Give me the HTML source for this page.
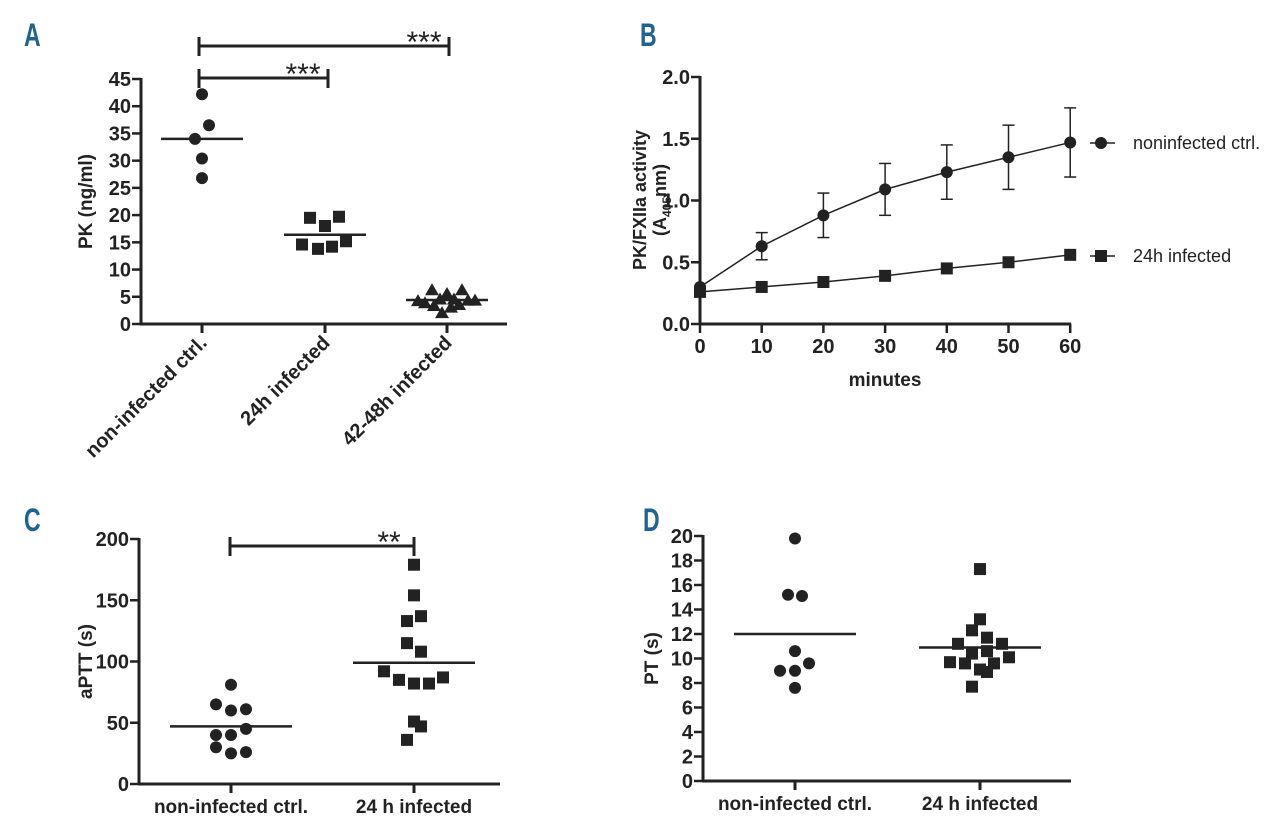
<!DOCTYPE html>
<html><head><meta charset="utf-8"><style>
body{margin:0;background:#fff}
svg{display:block;font-family:"Liberation Sans",sans-serif;font-weight:bold}
.pl{fill:#1f6390;font-size:32px;font-family:"Liberation Sans Narrow","Liberation Sans",sans-serif}
</style></head><body>
<svg id="s" width="1280" height="827" viewBox="0 0 1280 827">
<text class="pl" x="0" y="0" transform="translate(24,46) scale(0.72,1)">A</text>
<text class="pl" x="0" y="0" transform="translate(640,46) scale(0.72,1)">B</text>
<text class="pl" x="0" y="0" transform="translate(24,531) scale(0.72,1)">C</text>
<text class="pl" x="0" y="0" transform="translate(643,531) scale(0.72,1)">D</text>
</svg>
<script>
// Panel A data
const aCats=["non-infected ctrl.","24h infected","42-48h infected"];
const aVals=[[42.2,36.5,34,30.4,26.8],[19.5,19.7,18,15.2,14.6,13.8,14.2],[6.2,6.2,5.5,4.2,3.8,3.3,4.5,2.0,3.0,4.5,3.5,4.3,4.3]];
const aJit=[[0,7,-7,0,0],[-15,14,0,21,-23,-7,7],[-15,15,0,-29,-22,-13,-7,-5,4,7,12,21,28]];
const aMeans=[34,16.4,4.4];
const aTicks=[0,5,10,15,20,25,30,35,40,45];
// Panel B data
const bX=[0,10,20,30,40,50,60];
const bCtrl=[0.30,0.63,0.88,1.09,1.23,1.35,1.47];
const bCtrlErr=[0,0.11,0.18,0.21,0.22,0.26,0.28];
const bInf=[0.26,0.30,0.34,0.39,0.45,0.50,0.56];
const bYTicks=[0,0.5,1.0,1.5,2.0];
// Panel C data
const cCats=["non-infected ctrl.","24 h infected"];
const cVals=[[81,65,60,61,45,40,40,30,25,26],[179,154,137,133,115,108,92,85,82,82,87,51,47,36]];
const cJit=[[0,-15,0,15,15,-15,0,-15,0,15],[0,0,7,-7,-7,7,-30,-15,0,15,29,0,7,-7]];
const cMeans=[47,99];
const cTicks=[0,50,100,150,200];
// Panel D data
const dCats=["non-infected ctrl.","24 h infected"];
const dVals=[[19.8,15.2,15.1,10.6,9.0,9.0,9.6,7.6],[17.3,13.2,12.3,11.7,11.2,11.2,10.4,10.6,9.7,9.6,9.6,10.1,9.1,8.9,7.7]];
const dJit=[[0,-7,7,0,-15,0,14,0],[0,0,-8,7,-22,22,-8,7,-30,-15,14,29,0,7,-8]];
const dMeans=[12,10.9];
const dTicks=[0,2,4,6,8,10,12,14,16,18,20];

const S=document.getElementById('s');const NS="http://www.w3.org/2000/svg";
function mk(t,a,txt){const e=document.createElementNS(NS,t);for(const k in a)e.setAttribute(k,a[k]);if(txt!==undefined)e.textContent=txt;S.appendChild(e);return e;}
function ln(x1,y1,x2,y2,w){return mk('line',{x1,y1,x2,y2,stroke:'#222','stroke-width':w||3});}
function marker(shape,x,y){
 let e;
 if(shape==='c')e=mk('circle',{cx:x,cy:y,r:6,fill:'#222'});
 else if(shape==='s')e=mk('rect',{x:x-6,y:y-6,width:12,height:12,fill:'#222'});
 else e=mk('polygon',{points:`${x},${y-7} ${x+7},${y+5} ${x-7},${y+5}`,fill:'#222'});
 return e;
}
function yAxis(x0,y0,y1,ticks,vmax,fmt,name){
 const ys=v=>y0-(v/vmax)*(y0-y1);
 const a=ln(x0,y0+1,x0,y1-1);
 ticks.forEach(t=>{ln(x0-9,ys(t),x0,ys(t),2.5);
  const tx=mk('text',{x:x0-10,y:ys(t)+7,'text-anchor':'end','font-size':20,fill:'#222'},fmt(t));
  });
 return ys;
}
function scatter(p){
 const ys=yAxis(p.x0,p.y0,p.y1,p.ticks,p.vmax,t=>String(t),p.name);
 const xa=ln(p.x0-1,p.y0,p.xe,p.y0);
 p.cats.forEach((c,i)=>{const cx=p.cx[i];ln(cx,p.y0,cx,p.y0+9,3);
  let t;
  if(p.rot){t=mk('text',{x:cx+6,y:p.y0+20,'text-anchor':'end','font-size':20,fill:'#222',transform:`rotate(-45 ${cx+6} ${p.y0+20})`},c);}
  else t=mk('text',{x:cx,y:p.y0+29,'text-anchor':'middle','font-size':19,fill:'#222'},c);
  
  p.vals[i].forEach((v,j)=>{const m=marker(p.shapes[i],cx+p.jit[i][j],ys(v));
   });
  const ml=ln(cx-p.mw,ys(p.means[i]),cx+p.mw,ys(p.means[i]),2.5);
  
 });
 const yt=mk('text',{x:0,y:0,'text-anchor':'middle','font-size':19,fill:'#222',transform:`translate(${p.ytx},${(p.y0+p.y1)/2}) rotate(-90)`},p.ytitle);
 
}
function bracket(x1,x2,y,label,name){
 ln(x1,y,x2,y);ln(x1,y-9,x1,y+10);ln(x2,y-9,x2,y+10);
 const t=mk('text',{x:x2-25,y:y+6,'text-anchor':'middle','font-size':30,'font-weight':'normal',fill:'#222'},label);
 
}
scatter({name:'panel-a',x0:141,y0:324,y1:79,xe:507,vmax:45,ticks:aTicks,cats:aCats,cx:[202,325,447],vals:aVals,jit:aJit,means:aMeans,mw:41,shapes:['c','s','t'],rot:true,ytitle:'PK (ng/ml)',ytx:92});
bracket(199,449,46,'***','significance-a-1');
bracket(199,328,78,'***','significance-a-2');
scatter({name:'panel-c',x0:139,y0:784,y1:539,xe:500,vmax:200,ticks:cTicks,cats:cCats,cx:[231,414],vals:cVals,jit:cJit,means:cMeans,mw:61,shapes:['c','s'],ytitle:'aPTT (s)',ytx:92});
bracket(230,414,546,'**','significance-c');
scatter({name:'panel-d',x0:703,y0:781,y1:536,xe:1071,vmax:20,ticks:dTicks,cats:dCats,cx:[795,980],vals:dVals,jit:dJit,means:dMeans,mw:61,shapes:['c','s'],ytitle:'PT (s)',ytx:658});
// Panel B
(function(){
 const x0=700,y0=324,y1=77,xs=m=>x0+m*6.17;
 const ys=yAxis(x0,y0,y1,bYTicks,2,t=>t.toFixed(1),'panel-b');
 const xa=ln(x0-1,y0,xs(60)+1,y0);
 bX.forEach(m=>{ln(xs(m),y0,xs(m),y0+9,2.5);const t=mk('text',{x:xs(m),y:y0+29,'text-anchor':'middle','font-size':20,fill:'#222'},String(m));
  });
 const mt=mk('text',{x:885,y:386,'text-anchor':'middle','font-size':19,fill:'#222'},'minutes');
 
 const y1t=mk('text',{x:0,y:0,'text-anchor':'middle','font-size':18,fill:'#222',transform:'translate(646,200) rotate(-90)'},'PK/FXIIa activity');
 
 const y2t=mk('text',{x:0,y:0,'text-anchor':'middle','font-size':18,fill:'#222',transform:'translate(666,200) rotate(-90)'});
 y2t.innerHTML='(A<tspan font-size="12" dy="5">405</tspan><tspan dy="-5">nm)</tspan>';
 
 function series(vals,err,shape,name){
  const pl=mk('polyline',{points:vals.map((v,i)=>xs(bX[i])+','+ys(v)).join(' '),fill:'none',stroke:'#222','stroke-width':1.5});
  
  vals.forEach((v,i)=>{if(err&&err[i]>0){const x=xs(bX[i]);ln(x,ys(v+err[i]),x,ys(v-err[i]),1.5);ln(x-6,ys(v+err[i]),x+6,ys(v+err[i]),1.5);ln(x-6,ys(v-err[i]),x+6,ys(v-err[i]),1.5);}
   const m=marker(shape,xs(bX[i]),ys(v));});
 }
 series(bInf,null,'s','infected-series');
 series(bCtrl,bCtrlErr,'c','control-series');
 ln(1090,143,1115,143,1.5);marker('c',1101,143);
 const l1=mk('text',{x:1133,y:149,'font-size':18,'font-weight':'normal',fill:'#222'},'noninfected ctrl.');
 
 ln(1090,256,1115,256,1.5);marker('s',1101,256);
 const l2=mk('text',{x:1133,y:262,'font-size':18,'font-weight':'normal',fill:'#222'},'24h infected');
 
})();
</script>
</body></html>
